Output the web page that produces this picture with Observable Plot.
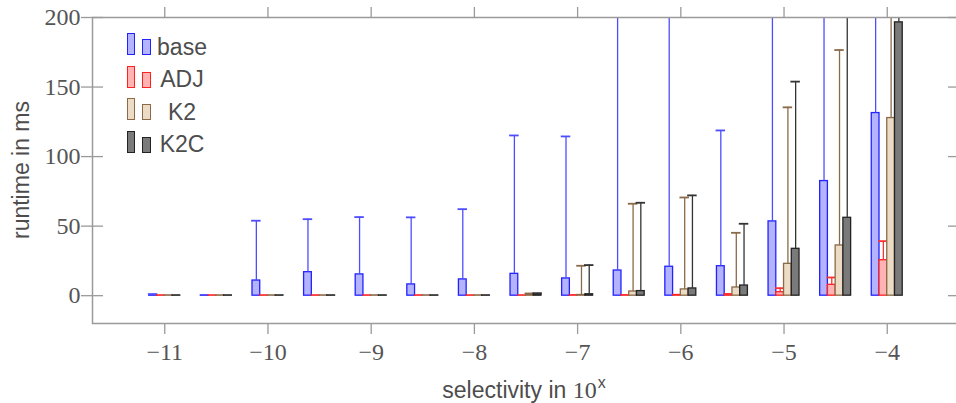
<!DOCTYPE html>
<html><head><meta charset="utf-8">
<script src="https://cdn.jsdelivr.net/npm/d3@7"></script>
<script src="https://cdn.jsdelivr.net/npm/@observablehq/plot@0.6"></script>
<style>
html,body{margin:0;padding:0;background:#fff;overflow:hidden;}
#wrap{position:relative;width:956px;height:403px;overflow:hidden;background:#fff;}
#wrap svg{position:absolute;left:0;top:0;max-width:none !important;}
.lab{position:absolute;font-family:"Liberation Sans",Arial,sans-serif;font-size:23px;line-height:23px;color:#4d4d4d;white-space:nowrap;}
.sw{position:absolute;box-sizing:border-box;border-style:solid;border-width:1.5px;}
</style></head><body><div id="wrap"></div>
<script>
// ---- data ----
const selectivity = [-11, -10.5, -10, -9.5, -9, -8.5, -8, -7.5, -7, -6.5, -6, -5.5, -5, -4.5, -4];
const xTicks = [-11, -10, -9, -8, -7, -6, -5, -4];
const yTicks = [0, 50, 100, 150, 200];
const seriesNames = ["base", "ADJ", "K2", "K2C"];

const base    = [0.7, 0.2, 10.9, 16.9, 15.3, 8.1, 11.7, 15.7, 12.4, 18.1, 20.8, 21.2, 53.4, 82.4, 131.3];
const baseErr = [1.0, null, 53.9, 55.0, 56.5, 56.3, 62.2, 115.2, 114.5, 260, 260, 118.8, 260, 260, 260];
const adj     = [0.2, 0.2, 0.2, 0.2, 0.2, 0.2, 0.2, 0.2, 0.3, 0.3, 0.5, 1.0, 2.5, 7.8, 25.5];
const adjErr  = [null, null, null, null, null, null, null, null, null, null, null, null, 5.4, 13.1, 39.2];
const k2      = [0.2, 0.2, 0.2, 0.2, 0.2, 0.2, 0.2, 0.9, 0.5, 3.0, 4.5, 5.9, 22.9, 36.1, 127.7];
const k2Err   = [null, null, null, null, null, null, null, 1.6, 21.5, 66.1, 70.6, 45.2, 135.4, 176.6, 260];
const k2c     = [0.2, 0.2, 0.2, 0.2, 0.2, 0.2, 0.2, 1.0, 1.0, 3.3, 5.2, 7.3, 33.7, 56.0, 196.5];
const k2cErr  = [null, null, null, null, null, null, null, 1.8, 22.0, 66.8, 72.1, 51.7, 153.9, 260, 260];

// ---- styles ----
const fills   = ["#b3b3ff", "#ffb3b3", "#ecdcc6", "#7a7a7a"];
const strokes = ["#2222ff", "#ff2020", "#8a6a48", "#222222"];
const whisk   = ["#4d4dff", "#ff3030", "#8a6a48", "#333333"];

const values = [base, adj, k2, k2c];
const errs = [baseErr, adjErr, k2Err, k2cErr];

const W = 970, H = 403, mL = 92, mR = 11, mT = 17, mB = 80;
const plotW = W - mL - mR;
const bw = 0.075;
const off = j => (j - 1.5) * bw;

const marks = [];
seriesNames.forEach((name, j) => {
  const rows = selectivity.map((s, i) => ({sel: s, value: values[j][i], err: errs[j][i]}));
  const er = rows.filter(d => d.err != null);
  marks.push(Plot.rectY(rows, {
    x1: d => d.sel + off(j) - bw / 2, x2: d => d.sel + off(j) + bw / 2,
    y1: 0, y2: d => d.value, fill: fills[j], stroke: strokes[j], strokeWidth: 1.3, clip: true
  }));
  marks.push(Plot.ruleX(er, {
    x: d => d.sel + off(j), y1: d => d.value, y2: d => d.err,
    stroke: whisk[j], strokeWidth: 1.3, clip: true
  }));
  marks.push(Plot.ruleY(er, {
    y: d => d.err, x1: d => d.sel + off(j) - 0.046, x2: d => d.sel + off(j) + 0.046,
    stroke: whisk[j], strokeWidth: 1.8, clip: true
  }));
});

const chart = Plot.plot({
  width: W, height: H, marginLeft: mL, marginRight: mR, marginTop: mT, marginBottom: mB,
  x: {domain: [-11.7, -3.3]},
  y: {domain: [-20, 200]},
  style: {fontFamily: '"Liberation Serif", "Times New Roman", serif', fontSize: "24px", color: "#555", background: "white", overflow: "visible", maxWidth: "none"},
  marks: [
    ...marks,
    Plot.frame({stroke: "#9a9a9a", strokeWidth: 1.5}),
    Plot.axisX(xTicks, {anchor: "bottom", tickSize: 11, tickPadding: 8, label: null, stroke: "#9a9a9a", strokeWidth: 1.3}),
    Plot.axisX(xTicks, {anchor: "top", tickSize: 11, tickFormat: () => "", label: null, stroke: "#9a9a9a", strokeWidth: 1.3}),
    Plot.axisY(yTicks, {anchor: "left", tickSize: 11, tickPadding: 1, label: null, stroke: "#9a9a9a", strokeWidth: 1.3}),
    Plot.ruleY(yTicks, {y: d => d, insetRight: plotW - 11, stroke: "#9a9a9a", strokeWidth: 1.3}),
    Plot.ruleY(yTicks, {y: d => d, insetLeft: plotW - 11, stroke: "#9a9a9a", strokeWidth: 1.3})
  ]
});
chart.style.maxWidth = "none";
chart.setAttribute("width", W);
chart.setAttribute("height", H);
const wrap = document.getElementById("wrap");
wrap.appendChild(chart);

// ---- legend (HTML overlay) ----
seriesNames.forEach((name, k) => {
  const top = 33 + 32.5 * k;
  const r1 = document.createElement("div");
  r1.className = "sw";
  Object.assign(r1.style, {left: "126.5px", top: top + "px", width: "8px", height: "22px", background: fills[k], borderColor: strokes[k]});
  const r2 = document.createElement("div");
  r2.className = "sw";
  Object.assign(r2.style, {left: "142px", top: (top + 6) + "px", width: "8.5px", height: "16px", background: fills[k], borderColor: strokes[k]});
  const t = document.createElement("div");
  t.className = "lab";
  t.textContent = name;
  Object.assign(t.style, {left: "182px", top: (top + 22 - 19.5) + "px", transform: "translateX(-50%)"});
  wrap.append(r1, r2, t);
});

// ---- axis titles ----
const xl = document.createElement("div");
xl.className = "lab";
xl.innerHTML = 'selectivity in <span style="font-family:\'Liberation Serif\',serif;font-size:24px">10</span><span style="font-size:16px;position:relative;top:-10px;margin-left:1px">x</span>';
Object.assign(xl.style, {left: "524px", top: (398 - 19.5) + "px", transform: "translateX(-50%)"});
wrap.appendChild(xl);

const yl = document.createElement("div");
yl.className = "lab";
yl.textContent = "runtime in ms";
Object.assign(yl.style, {left: "21px", top: "170px", transform: "translate(-50%,-50%) rotate(-90deg)"});
wrap.appendChild(yl);
</script>
</body></html>
